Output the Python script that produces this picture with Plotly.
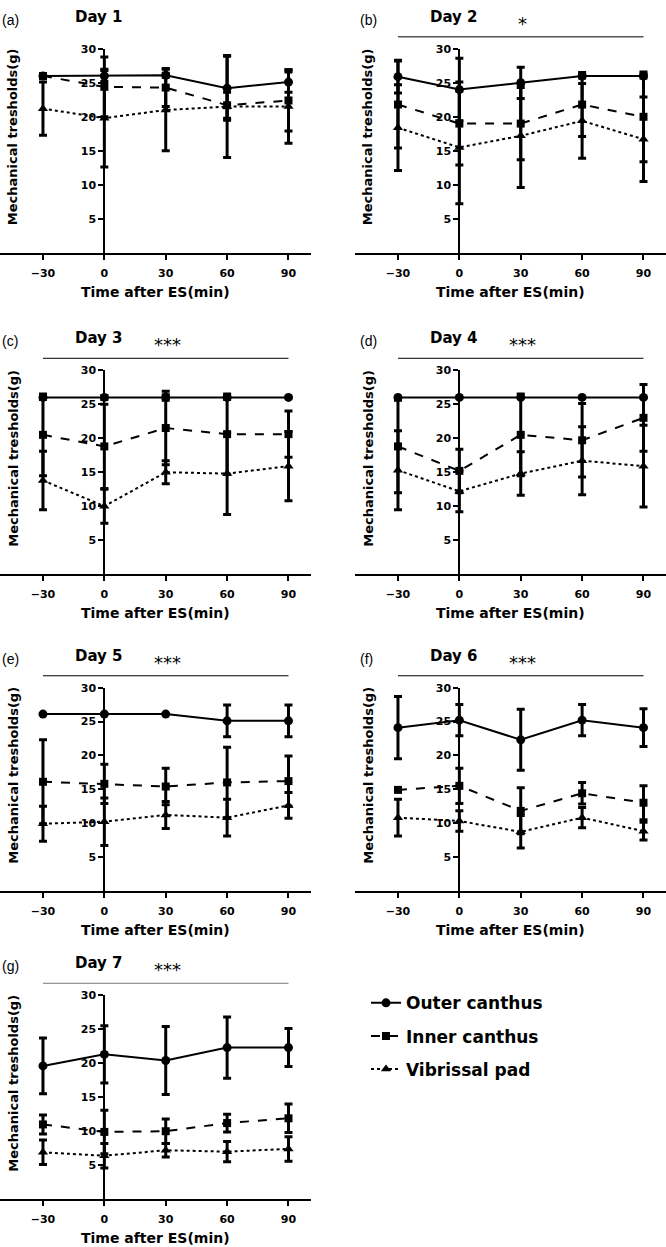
import plotly.graph_objects as go

# ---------------- data ----------------
times = [-30, 0, 30, 60, 90]
day_titles = ["Day 1", "Day 2", "Day 3", "Day 4", "Day 5", "Day 6", "Day 7"]
panel_labels = ["(a)", "(b)", "(c)", "(d)", "(e)", "(f)", "(g)"]
sig_labels = ["", "*", "***", "***", "***", "***", "***"]
series_names = ["Outer canthus", "Inner canthus", "Vibrissal pad"]
y_ticks = [5, 10, 15, 20, 25, 30]
x_ticks = [-30, 0, 30, 60, 90]
x_title = "Time after ES(min)"
y_title = "Mechanical tresholds(g)"

outer_mean = [
    [26.0, 26.0, 26.1, 24.2, 25.1],
    [25.9, 24.0, 25.0, 26.0, 26.0],
    [26.0, 26.0, 26.0, 26.0, 26.0],
    [26.0, 26.0, 26.0, 26.0, 26.0],
    [26.1, 26.1, 26.1, 25.1, 25.1],
    [24.1, 25.2, 22.3, 25.2, 24.1],
    [19.6, 21.3, 20.4, 22.3, 22.3],
]
outer_sd = [
    [0.0, 0.8, 0.3, 4.7, 1.5],
    [2.4, 4.6, 2.3, 0.3, 0.3],
    [0.3, 0.3, 0.4, 0.3, 0.0],
    [0.0, 0.0, 0.0, 0.0, 0.0],
    [0.0, 0.0, 0.0, 2.35, 2.35],
    [4.6, 2.3, 4.5, 2.3, 2.8],
    [4.1, 4.2, 5.0, 4.5, 2.8],
]
inner_mean = [
    [26.0, 24.4, 24.3, 21.7, 22.4],
    [21.8, 19.0, 19.0, 21.8, 20.0],
    [20.5, 18.8, 21.5, 20.6, 20.6],
    [18.8, 15.2, 20.5, 19.7, 23.0],
    [16.1, 15.8, 15.4, 16.0, 16.2],
    [14.9, 15.5, 11.8, 14.4, 13.0],
    [11.0, 9.9, 10.0, 11.2, 11.9],
]
inner_sd = [
    [0.0, 4.4, 2.8, 1.9, 4.5],
    [6.4, 6.1, 5.3, 4.7, 6.6],
    [6.0, 6.2, 5.4, 5.9, 3.4],
    [6.8, 3.2, 6.0, 5.4, 4.9],
    [6.2, 2.9, 2.7, 5.2, 3.7],
    [0.0, 2.6, 3.4, 1.6, 2.5],
    [1.4, 3.2, 1.8, 1.3, 2.1],
]
vib_mean = [
    [21.2, 19.8, 21.0, 21.5, 21.5],
    [18.4, 15.5, 17.2, 19.4, 16.7],
    [13.8, 10.0, 15.0, 14.8, 15.9],
    [15.3, 12.2, 14.8, 16.7, 15.9],
    [9.9, 10.2, 11.2, 10.8, 12.6],
    [10.8, 10.3, 8.7, 10.8, 8.8],
    [6.9, 6.4, 7.2, 7.0, 7.4],
]
vib_sd = [
    [3.9, 7.2, 6.0, 7.5, 5.4],
    [6.3, 8.3, 7.6, 5.5, 6.2],
    [4.3, 2.5, 1.7, 6.0, 5.1],
    [5.8, 3.0, 3.2, 5.0, 6.0],
    [2.6, 3.5, 2.0, 2.7, 1.9],
    [2.7, 1.5, 2.4, 1.5, 1.3],
    [1.8, 1.8, 1.0, 1.5, 1.8],
]

# ---------------- layout geometry ----------------
W, H = 666, 1247
PW = 311
col_x0 = [0, 355]
row_top = [43, 366, 685, 994]
row_bot = [248, 571, 889, 1199]
panel_pos = [(0, 0), (0, 1), (1, 0), (1, 1), (2, 0), (2, 1), (3, 0)]
XR = [-51, 101]
YR = [0, 30]

BOLD = "DejaVu Sans"
tickfont = dict(family=BOLD, size=11, color="black", weight="bold")

styles = [
    dict(dash="solid", symbol="circle", size=9),
    dict(dash="dash", symbol="square", size=8),
    dict(dash="dot", symbol="triangle-up", size=9),
]
means = [outer_mean, inner_mean, vib_mean]
sds = [outer_sd, inner_sd, vib_sd]

fig = go.Figure()
annotations = []
shapes = []


def px_x(x0, xv):
    return x0 + (xv - XR[0]) / (XR[1] - XR[0]) * PW


for i, (r, c) in enumerate(panel_pos):
    k = i + 1
    xa = "x" if k == 1 else f"x{k}"
    ya = "y" if k == 1 else f"y{k}"
    x0 = col_x0[c]
    top, bot = row_top[r], row_bot[r]
    for s in range(3):
        st = styles[s]
        fig.add_trace(go.Scatter(
            x=times, y=means[s][i], xaxis=xa, yaxis=ya,
            mode="lines+markers", name=series_names[s],
            legendgroup=series_names[s], showlegend=(i == 0),
            line=dict(color="black", width=2, dash=st["dash"]),
            marker=dict(symbol=st["symbol"], size=st["size"], color="black"),
            error_y=dict(type="data", array=sds[s][i], visible=True,
                         color="black", thickness=3, width=4),
            cliponaxis=False,
        ))
    yax_px = px_x(x0, 0)
    fig.update_layout(**{
        ("xaxis" if k == 1 else f"xaxis{k}"): dict(
            domain=[x0 / W, (x0 + PW) / W], range=XR, anchor=ya,
            showline=True, linewidth=2, linecolor="black",
            ticks="outside", ticklen=5, tickwidth=2, tickcolor="black",
            tickvals=x_ticks, tickfont=tickfont, ticklabelstandoff=4,
            showgrid=False, zeroline=False, fixedrange=True),
        ("yaxis" if k == 1 else f"yaxis{k}"): dict(
            domain=[1 - bot / H, 1 - top / H], range=YR, anchor="free",
            position=yax_px / W,
            showline=True, linewidth=2, linecolor="black",
            ticks="outside", ticklen=5, tickwidth=2, tickcolor="black",
            tickvals=y_ticks, tickfont=tickfont,
            showgrid=False, zeroline=False, fixedrange=True),
    })
    # titles
    annotations.append(dict(text=day_titles[i], xref="paper", yref="paper",
                            x=(yax_px - 31) / W, y=1 - (top - 32) / H,
                            xanchor="left", yanchor="middle", showarrow=False,
                            font=dict(family=BOLD, size=15, color="black", weight="bold")))
    annotations.append(dict(text=panel_labels[i], xref="paper", yref="paper",
                            x=(x0 + (0 if c == 0 else 3)) / W, y=1 - (top - 29) / H,
                            xanchor="left", yanchor="middle", showarrow=False,
                            font=dict(family="Liberation Sans", size=14, color="black")))
    annotations.append(dict(text=y_title, xref="paper", yref="paper",
                            x=(yax_px - 91) / W, y=1 - ((top + bot) / 2 - 14) / H,
                            xanchor="center", yanchor="middle", showarrow=False,
                            textangle=-90,
                            font=dict(family=BOLD, size=13, color="black", weight="bold")))
    annotations.append(dict(text=x_title, xref="paper", yref="paper",
                            x=(x0 + PW / 2) / W, y=1 - (bot + 39) / H,
                            xanchor="center", yanchor="middle", showarrow=False,
                            font=dict(family=BOLD, size=14, color="black", weight="bold")))
    if sig_labels[i]:
        ly = top - 12
        shapes.append(dict(type="line", xref="paper", yref="paper",
                           x0=px_x(x0, -30) / W, x1=px_x(x0, 90) / W,
                           y0=1 - ly / H, y1=1 - ly / H,
                           line=dict(color="#777777" if i == 6 else "black", width=1)))
        annotations.append(dict(text=sig_labels[i], xref="paper", yref="paper",
                                x=px_x(x0, 31) / W, y=1 - (ly - 1) / H,
                                xanchor="center", yanchor="bottom", showarrow=False,
                                font=dict(family=BOLD, size=18, color="black")))

fig.update_layout(
    width=W, height=H,
    margin=dict(l=0, r=0, t=0, b=0),
    paper_bgcolor="white", plot_bgcolor="white",
    annotations=annotations, shapes=shapes,
    showlegend=True,
    legend=dict(x=366 / W, y=1 - 984 / H, xanchor="left", yanchor="top",
                itemwidth=30, tracegroupgap=8, bgcolor="rgba(0,0,0,0)",
                font=dict(family=BOLD, size=17, color="black", weight="bold")),
)

fig.write_html(
    "out.html",
    config={"displayModeBar": False},
    post_script="document.body.style.margin='0px';document.body.style.overflow='hidden';",
)
